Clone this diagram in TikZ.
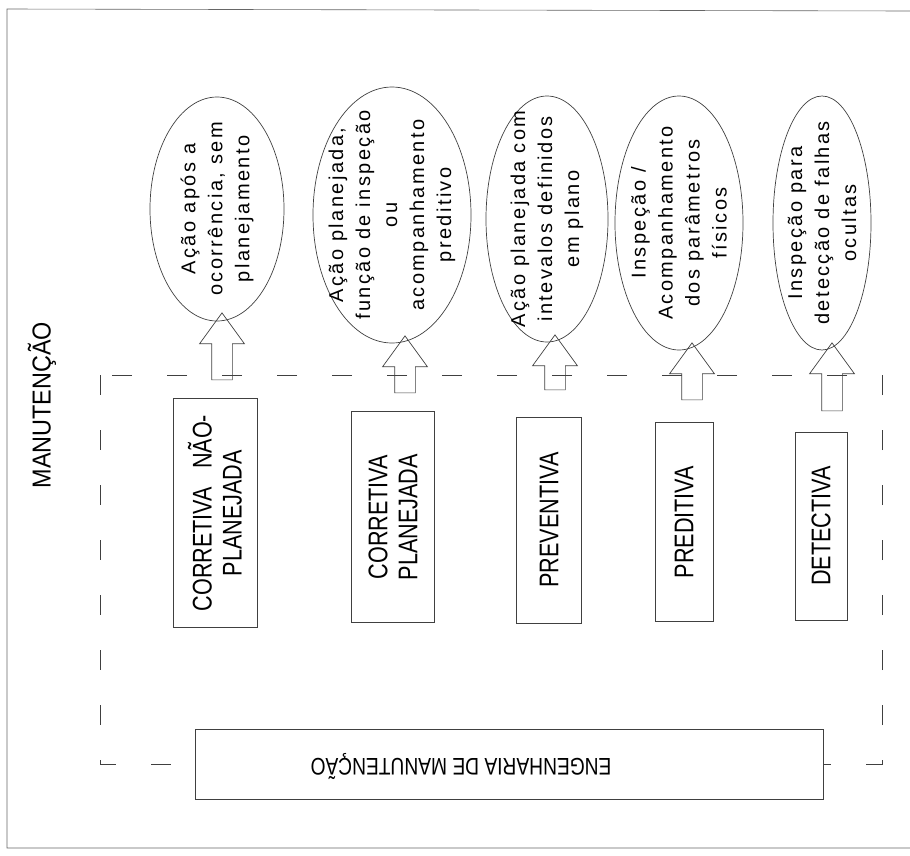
\documentclass[tikz,border=0pt]{standalone}
\usepackage{fontspec}
\setmainfont{Liberation Sans}
\newfontfamily\boxfont[FakeStretch=0.8]{Liberation Sans}
\newfontfamily\titlefont[FakeStretch=0.9]{Liberation Sans}
\newfontfamily\ovalfont[LetterSpace=12]{Liberation Sans}
\usetikzlibrary{positioning,shapes,arrows}

\begin{document}
\begin{tikzpicture}
    [x=1pt,y=-1pt,every node/.style={draw=black!75, line width=0.7pt, inner sep=0pt, rotate=90},
     oval/.style={ellipse},
     ovaltext/.style={draw=none, align=center, font=\ovalfont\fontsize{20}{27}\selectfont},
     tipo/.style={rectangle, align=center, font=\boxfont\fontsize{27}{30}\selectfont},
     seta/.style={single arrow, single arrow head extend=12pt, single arrow tip angle=72, inner sep=10pt}]
          \useasboundingbox (0,0) rectangle (910,855);
          \draw[black!60, line width=0.6pt] (910,11) -- (7,9) -- (7,848) -- (910,848);
          \draw[black!75, line width=0.7pt, dash pattern=on 20pt off 35pt] (100,375) rectangle (882,764);

          \node[draw=none, font=\titlefont\fontsize{26}{30}\selectfont] (title) at (42,405) {MANUTENÇÃO};

          \node[oval, minimum width=224pt, minimum height=134pt] (e1) at (217,209) {};
          \node[oval, minimum width=256pt, minimum height=158pt] (e2) at (392,215) {};
          \node[oval, minimum width=246pt, minimum height=122pt] (e3) at (547,219) {};
          \node[oval, minimum width=254pt, minimum height=128pt] (e4) at (679,223) {};
          \node[oval, minimum width=254pt, minimum height=98pt] (e5) at (822,223) {};

          \node[ovaltext] (t1) at (e1) {Ação após a\\ocorrência, sem\\planejamento};
          \node[ovaltext] (t2) at (e2) {Ação planejada,\\função de inspeção\\ou\\acompanhamento\\preditivo};
          \node[ovaltext] (t3) at (e3) {Ação planejada com\\intevalos definidos\\em plano};
          \node[ovaltext] (t4) at (e4) {Inspeção /\\Acompanhamento\\dos parâmetros\\físicos};
          \node[ovaltext] (t5) at (e5) {Inspeção para\\detecção de falhas\\ocultas};

          \node[tipo, minimum width=229pt, minimum height=84pt] (b1) at (215,513) {CORRETIVA\ \ \ NÃO-\\PLANEJADA};
          \node[tipo, minimum width=211pt, minimum height=83pt] (b2) at (393,517) {CORRETIVA\\PLANEJADA};
          \node[tipo, minimum width=206pt, minimum height=65pt] (b3) at (549,520) {PREVENTIVA};
          \node[tipo, minimum width=199pt, minimum height=58pt] (b4) at (684,522) {PREDITIVA};
          \node[tipo, minimum width=188pt, minimum height=52pt] (b5) at (821,526) {DETECTIVA};

          \node[tipo, fill=white, minimum width=70pt, minimum height=628pt] (eng) at (509,764) {};
          \node[draw=none, rotate=90, font=\boxfont\fontsize{24}{28}\selectfont] (engtext) at (461,766) {ENGENHARIA DE MANUTENÇÃO};

          \foreach \name/\x/\y/\len in {a1/222/353.5/67, a2/405/371.5/57, a3/555/369.5/55, a4/692/378.5/57, a5/832/384/68}
            \node[seta, minimum height=\len pt] (\name) at (\x,\y) {};
        \end{tikzpicture}
\end{document}
